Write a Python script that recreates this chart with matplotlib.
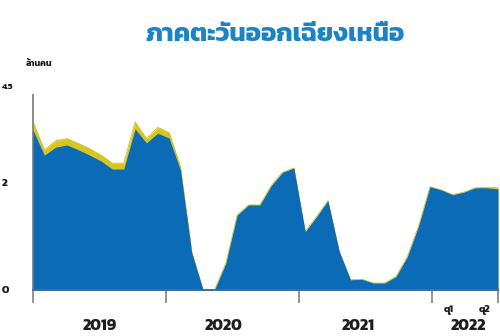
import matplotlib
matplotlib.use("Agg")
import matplotlib.pyplot as plt
import numpy as np

plt.rcParams['font.family'] = ['Kanit', 'DejaVu Sans']

# Monthly visitors to the Northeast region (million people), Jan 2019 - Jun 2022
thai_visitors = [
    2.99, 2.52, 2.67, 2.71, 2.62, 2.52, 2.41, 2.26, 2.26, 3.01, 2.75, 2.93,   # 2019
    2.84, 2.24, 0.69, 0.00, 0.00, 0.50, 1.40, 1.59, 1.59, 1.95, 2.20, 2.28,   # 2020
    1.09, 1.37, 1.67, 0.72, 0.19, 0.20, 0.13, 0.13, 0.25, 0.62, 1.20, 1.93,   # 2021
    1.87, 1.78, 1.83, 1.91, 1.91, 1.89,                                       # 2022 H1
]
foreign_visitors = [
    0.15, 0.10, 0.12, 0.12, 0.12, 0.12, 0.11, 0.11, 0.11, 0.13, 0.08, 0.11,
    0.10, 0.07, 0.02, 0.00, 0.00, 0.00, 0.00, 0.00, 0.00, 0.00, 0.00, 0.00,
    0.00, 0.00, 0.00, 0.00, 0.00, 0.00, 0.00, 0.00, 0.00, 0.00, 0.00, 0.00,
    0.00, 0.00, 0.00, 0.00, 0.01, 0.02,
]
year_labels = ['2019', '2020', '2021', '2022']
quarter_labels = ['q1', 'q2']
y_tick_values = [0, 2]
y_tick_labels = ['0', '2', '4.5']
title = 'ภาคตะวันออกเฉียงเหนือ'
unit_label = 'ล้านคน'

BLUE = '#0b6bb6'
YELLOW = '#d9c520'
TITLE_BLUE = '#1a84c6'
GREY = '#8a8a8a'

thai = np.array(thai_visitors)
foreign = np.array(foreign_visitors)
n = len(thai)
x = np.arange(n)
span = n - 1
month_to_x = lambda m: m * span / n   # month boundary -> data x

fig = plt.figure(figsize=(5, 3.36), dpi=100)
ax = fig.add_axes([0.066, 0.137, 0.930, 0.621])

ax.fill_between(x, 0, thai + foreign, color=YELLOW, lw=0, zorder=2)
ax.plot(x, thai + foreign, color='#c8c030', lw=0.6, zorder=2)
ax.fill_between(x, 0, thai, color=BLUE, lw=0, zorder=3)

ax.set_xlim(0, span)
ax.set_ylim(0, 3.9)

for side in ('top', 'right'):
    ax.spines[side].set_visible(False)
ax.spines['left'].set_bounds(0, 3.645)
ax.spines['left'].set_color(GREY)
ax.spines['left'].set_linewidth(1.4)
ax.spines['bottom'].set_color('#3d6f9a')
ax.spines['bottom'].set_linewidth(1.4)
ax.spines['bottom'].set_zorder(4)

# year boundaries as x ticks
ax.set_xticks([month_to_x(m) for m in (0, 12, 24, 36, 42)])
ax.set_xticklabels([])
ax.tick_params(axis='x', length=9.5, width=1.3, color=GREY, direction='out')

# y labels, left aligned at the figure edge
ax.set_yticks(y_tick_values + [3.81])
ax.set_yticklabels(y_tick_labels)
ax.tick_params(axis='y', length=0, pad=22.5)
for lab, size in zip(ax.get_yticklabels(), (8, 8, 6.5)):
    lab.set_horizontalalignment('left')
    lab.set_fontweight('bold')
    lab.set_fontsize(size)
    lab.set_color('#1e1e1e')

# year names under the axis
year_x = [5.9, 16.8, 28.7, 38.4]
for xp, lab in zip(year_x, year_labels):
    ax.text(xp, -0.67, lab, ha='center', va='center', fontsize=11.5,
            fontweight='bold', color='#1e1e1e', clip_on=False)
quarter_x = [month_to_x(36) + 1.5, month_to_x(42) - 1.2]
for xp, lab in zip(quarter_x, quarter_labels):
    ax.text(xp, -0.38, lab, ha='center', va='center', fontsize=7.5,
            fontweight='bold', color='#1e1e1e', clip_on=False)

fig.text(0.55, 0.895, title, ha='center', va='center', fontsize=18.5,
         fontweight='bold', color=TITLE_BLUE)
fig.text(0.078, 0.81, unit_label, ha='center', va='center', fontsize=6.5,
         fontweight='bold', color='#1e1e1e')

fig.savefig('out.png', dpi=100)
